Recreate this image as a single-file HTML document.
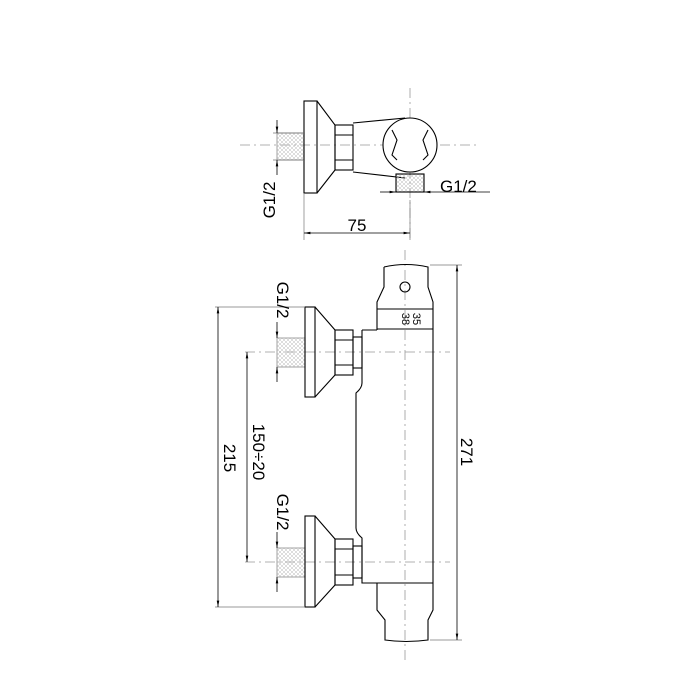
<!DOCTYPE html>
<html><head><style>body{margin:0;background:#fff}svg{display:block}</style></head><body>
<svg width="700" height="700" viewBox="0 0 700 700" xmlns="http://www.w3.org/2000/svg" font-family="Liberation Sans, sans-serif">
<defs>
<pattern id="th" width="4" height="4" patternUnits="userSpaceOnUse"><path d="M0 4L4 0M0 0L4 4" stroke="#bbb" stroke-width="0.5"/></pattern>
<marker id="a" viewBox="0 0 10 10" refX="10" refY="5" markerWidth="8" markerHeight="8" orient="auto-start-reverse"><path d="M0 3L10 5L0 7z" fill="#000"/></marker>
</defs>
<g stroke="#999" stroke-width="0.8" fill="none" stroke-dasharray="10 4 2 4">
<line x1="240" y1="145" x2="480" y2="145"/><line x1="410" y1="88" x2="410" y2="240"/>
<line x1="405" y1="250" x2="405" y2="660"/>
<line x1="245" y1="352" x2="450" y2="352"/><line x1="245" y1="562" x2="450" y2="562"/>
</g>
<g stroke="#000" stroke-width="1.1" fill="none">
<rect x="277" y="133" width="27" height="27" fill="url(#th)" stroke="#aaa"/>
<rect x="304" y="101" width="13" height="92"/>
<path d="M317 101L335 125V170L317 193"/>
<rect x="335" y="125" width="18" height="45"/>
<line x1="335" y1="135" x2="353" y2="135"/><line x1="335" y1="160" x2="353" y2="160"/>
<path d="M353 123L405 118M353 172L405 178"/>
<circle cx="410" cy="145" r="27" fill="#fff"/>
<path d="M392 130L397 140L392 155L397 160M428 130L423 140L428 155L423 160"/>
<rect x="396" y="174" width="28" height="18" fill="url(#th)"/>
<path d="M384 267Q406 262 428 267L428 287L433 302L433 583M384 267L384 287L377 302L377 330"/>
<line x1="377" y1="309" x2="433" y2="309"/><line x1="377" y1="329" x2="433" y2="329"/>
<circle cx="405" cy="287" r="5"/>
<path d="M362 330H377M362 330V383Q362 388 356 393V528Q356 533 362 538V583H433"/>
<path d="M377 583V610L385 620V640Q406 643 428 640V620L433 610V583"/>
<rect x="277" y="338" width="28" height="29" fill="url(#th)" stroke="#aaa"/>
<rect x="305" y="307" width="10" height="90"/>
<path d="M315 307L335 330V375L315 397"/>
<rect x="335" y="330" width="18" height="45"/>
<line x1="335" y1="340" x2="353" y2="340"/><line x1="335" y1="365" x2="353" y2="365"/>
<rect x="353" y="337" width="9" height="31"/>
<rect x="277" y="548" width="28" height="29" fill="url(#th)" stroke="#aaa"/>
<rect x="305" y="516" width="10" height="91"/>
<path d="M315 516L335 539V585L315 607"/>
<rect x="335" y="539" width="18" height="46"/>
<line x1="335" y1="549" x2="353" y2="549"/><line x1="335" y1="575" x2="353" y2="575"/>
<rect x="353" y="546" width="9" height="32"/>
</g>
<g stroke="#777" stroke-width="0.7" fill="none">
<line x1="304" y1="193" x2="304" y2="240"/><line x1="410" y1="200" x2="410" y2="240"/>
<line x1="215" y1="307" x2="305" y2="307"/><line x1="215" y1="607" x2="305" y2="607"/>
<line x1="430" y1="265" x2="462" y2="265"/><line x1="430" y1="640" x2="462" y2="640"/>
<line x1="273" y1="133" x2="304" y2="133"/><line x1="273" y1="160" x2="304" y2="160"/>
</g>
<g stroke="#000" stroke-width="0.8" fill="none">
<line x1="304" y1="233" x2="410" y2="233" marker-start="url(#a)" marker-end="url(#a)"/>
<line x1="380" y1="192" x2="396" y2="192" marker-end="url(#a)"/><line x1="490" y1="192" x2="424" y2="192" marker-end="url(#a)"/>
<line x1="277" y1="120" x2="277" y2="133" marker-end="url(#a)"/><line x1="277" y1="175" x2="277" y2="160" marker-end="url(#a)"/>
<line x1="218" y1="307" x2="218" y2="607" marker-start="url(#a)" marker-end="url(#a)"/>
<line x1="247" y1="352" x2="247" y2="562" marker-start="url(#a)" marker-end="url(#a)"/>
<line x1="457" y1="265" x2="457" y2="640" marker-start="url(#a)" marker-end="url(#a)"/>
<line x1="277" y1="322" x2="277" y2="338" marker-end="url(#a)"/><line x1="277" y1="382" x2="277" y2="367" marker-end="url(#a)"/>
<line x1="277" y1="532" x2="277" y2="548" marker-end="url(#a)"/><line x1="277" y1="592" x2="277" y2="577" marker-end="url(#a)"/>
</g>
<g font-size="17" fill="#000">
<text x="357" y="231" text-anchor="middle">75</text>
<text x="440" y="192">G1/2</text>
<text transform="translate(275,200) rotate(-90)" text-anchor="middle">G1/2</text>
<text transform="translate(277,300) rotate(90)" text-anchor="middle">G1/2</text>
<text transform="translate(277,512) rotate(90)" text-anchor="middle">G1/2</text>
<text transform="translate(224,458) rotate(90)" text-anchor="middle">215</text>
<text transform="translate(253,452) rotate(90)" text-anchor="middle">150÷20</text>
<text transform="translate(461,452) rotate(90)" text-anchor="middle">271</text>
</g>
<g font-size="11" fill="#000">
<text transform="translate(402,319) rotate(90)" text-anchor="middle">38</text>
<text transform="translate(413,319) rotate(90)" text-anchor="middle">35</text>
</g>
</svg>
</body></html>
